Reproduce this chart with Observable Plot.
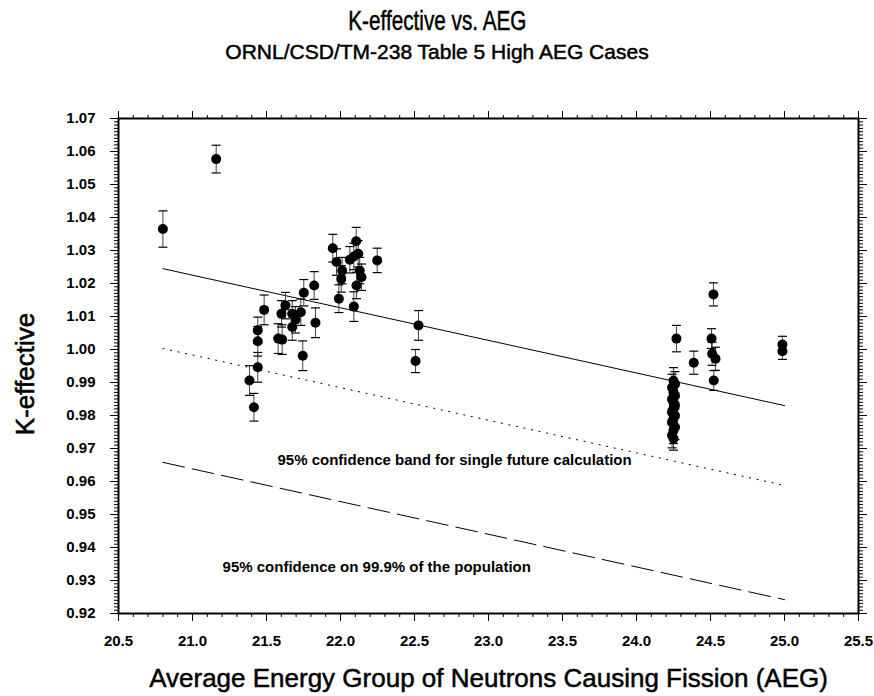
<!DOCTYPE html>
<html>
<head>
<meta charset="utf-8">
<script src="https://cdn.jsdelivr.net/npm/d3@7"></script>
<script src="https://cdn.jsdelivr.net/npm/@observablehq/plot@0.6"></script>
<style>
  body { margin: 0; background: #fff; font-family: "Liberation Sans", Arial, sans-serif; }
  #wrap { position: relative; width: 874px; height: 696px; overflow: hidden; }
  .head { position: absolute; left: 0; width: 874px; text-align: center; white-space: nowrap; -webkit-text-stroke: 0.5px #000; }
  .head span { display: inline-block; transform-origin: 50% 50%; }
  #title { top: 5px; font-size: 28px; line-height: 32px; }
  #title span { transform: scaleX(0.74); }
  #sub { top: 40px; font-size: 21px; line-height: 24px; }
  #chart { position: absolute; top: 80px; left: 0; }
</style>
</head>
<body>
<div id="wrap">
  <div id="title" class="head"><span>K-effective vs. AEG</span></div>
  <div id="sub" class="head"><span>ORNL/CSD/TM-238 Table 5 High AEG Cases</span></div>
  <div id="chart"></div>
</div>
<script>
// Benchmark cases: average energy group causing fission, calculated k-eff, 1-sigma uncertainty
const aeg = [
  20.80, 21.16, 21.385, 21.415, 21.441, 21.441, 21.441, 21.484, 21.579, 21.606,
  21.601, 21.628, 21.674, 21.696, 21.674, 21.732, 21.745, 21.752, 21.822, 21.831,
  21.948, 21.973, 21.989, 22.005, 22.011, 22.063, 22.09, 22.09, 22.106, 22.12,
  22.108, 22.13, 22.142, 22.248, 22.527, 22.507,
  24.27, 24.387, 24.507, 24.511, 24.534, 24.522, 24.52, 24.986, 24.986,
  24.25, 24.26, 24.24, 24.25, 24.26, 24.24, 24.25, 24.26, 24.25, 24.24,
  24.26, 24.25, 24.24, 24.26, 24.25, 24.24, 24.25
];
const keff = [
  1.0365, 1.0577, 0.9906, 0.9825, 0.9946, 1.0025, 1.0058, 1.0120, 1.0033, 1.0030,
  1.0108, 1.0133, 1.0108, 1.0090, 1.0068, 1.0113, 0.9981, 1.0172, 1.0194, 1.0081,
  1.0307, 1.0265, 1.0154, 1.0214, 1.0239, 1.0272, 1.0282, 1.0130, 1.0328, 1.0290,
  1.0194, 1.0239, 1.0219, 1.0270, 1.0073, 0.9965,
  1.0033, 0.9960, 1.0033, 0.9987, 0.9972, 0.9906, 1.0167, 1.0015, 0.9995,
  0.9905, 0.9895, 0.9885, 0.9870, 0.9860, 0.9850, 0.9840, 0.9830, 0.9820, 0.9810,
  0.9800, 0.9790, 0.9780, 0.9765, 0.9755, 0.9740, 0.9730
];
const sigma = [
  0.0055, 0.0042, 0.0045, 0.0042, 0.0045, 0.0045, 0.0040, 0.0045, 0.0045, 0.0045,
  0.0040, 0.0040, 0.0040, 0.0040, 0.0040, 0.0040, 0.0045, 0.0040, 0.0042, 0.0045,
  0.0042, 0.0040, 0.0042, 0.0040, 0.0040, 0.0040, 0.0040, 0.0045, 0.0042, 0.0040,
  0.0040, 0.0040, 0.0040, 0.0037, 0.0045, 0.0035,
  0.0040, 0.0035, 0.0030, 0.0035, 0.0035, 0.0030, 0.0035, 0.0025, 0.0025,
  0.0040, 0.0038, 0.0040, 0.0038, 0.0040, 0.0038, 0.0040, 0.0038, 0.0040, 0.0038,
  0.0040, 0.0038, 0.0040, 0.0038, 0.0040, 0.0038, 0.0035
];

// Regression line and lower tolerance limits, evaluated at the ends of the AEG range
const fitAeg = [20.8, 25.0];
const fitK = [1.0245, 0.9830];
const bandK = [1.0003, 0.9588];
const limitK = [0.9658, 0.9242];

// Tick values and labels
const xMajor = [20.5, 21.0, 21.5, 22.0, 22.5, 23.0, 23.5, 24.0, 24.5, 25.0, 25.5];
const yMajor = [0.92, 0.93, 0.94, 0.95, 0.96, 0.97, 0.98, 0.99, 1.00, 1.01, 1.02, 1.03, 1.04, 1.05, 1.06, 1.07];
const xMinor = d3.range(205, 256, 1).map(v => v / 10);
const yMinor = d3.range(920, 1071, 1).map(v => v / 1000);

const bandLabel = "95% confidence band for single future calculation";
const limitLabel = "95% confidence on 99.9% of the population";
const xTitle = "Average Energy Group of Neutrons Causing Fission (AEG)";
const yTitle = "K-effective";

const cases = aeg.map((x, i) => ({aeg: x, k: keff[i], s: sigma[i]}));
const rows = (ks) => fitAeg.map((x, i) => ({aeg: x, k: ks[i]}));

// Flat horizontal symbol for error bar caps
const cap = {
  draw(ctx, size) {
    const w = Math.sqrt(size / Math.PI);
    ctx.moveTo(-w, 0);
    ctx.lineTo(w, 0);
  }
};

const blank = () => "";
const fontFamily = "'Liberation Sans', Arial, sans-serif";

const chart = Plot.plot({
  width: 874,
  height: 616,
  marginTop: 38,
  marginBottom: 83,
  marginLeft: 118,
  marginRight: 16,
  x: {domain: [20.5, 25.5]},
  y: {domain: [0.92, 1.07]},
  style: {fontFamily, fontSize: "15px", fontWeight: "bold", color: "#000", background: "#fff"},
  marks: [
    // minor ticks on all four sides
    Plot.axisX(xMinor, {anchor: "bottom", tickSize: 4, tickFormat: blank, label: null}),
    Plot.axisX(xMinor, {anchor: "top", tickSize: 4, tickFormat: blank, label: null}),
    Plot.axisY(yMinor, {anchor: "left", tickSize: 4, tickFormat: blank, label: null}),
    Plot.axisY(yMinor, {anchor: "right", tickSize: 4, tickFormat: blank, label: null}),
    // major ticks, labelled on bottom and left
    Plot.axisX(xMajor, {anchor: "bottom", tickSize: 8, tickPadding: 14, tickFormat: d3.format(".1f"), label: null}),
    Plot.axisX(xMajor, {anchor: "top", tickSize: 8, tickFormat: blank, label: null}),
    Plot.axisY(yMajor, {anchor: "left", tickSize: 8, tickPadding: 15, tickFormat: d3.format(".2f"), label: null}),
    Plot.axisY(yMajor, {anchor: "right", tickSize: 8, tickFormat: blank, label: null}),
    Plot.frame({stroke: "#000", strokeWidth: 2}),

    // fitted trend and tolerance limits
    Plot.line(rows(fitK), {x: "aeg", y: "k", stroke: "#000", strokeWidth: 1}),
    Plot.line(rows(bandK), {x: "aeg", y: "k", stroke: "#000", strokeWidth: 1, strokeDasharray: "1.2,6.5"}),
    Plot.line(rows(limitK), {x: "aeg", y: "k", stroke: "#000", strokeWidth: 1, strokeDasharray: "22,8"}),

    // error bars
    Plot.ruleX(cases, {x: "aeg", y1: d => d.k - d.s, y2: d => d.k + d.s, stroke: "#444", strokeWidth: 1}),
    Plot.dot(cases, {x: "aeg", y: d => d.k + d.s, symbol: cap, r: 4.5, stroke: "#000", fill: "none", strokeWidth: 1.2}),
    Plot.dot(cases, {x: "aeg", y: d => d.k - d.s, symbol: cap, r: 4.5, stroke: "#000", fill: "none", strokeWidth: 1.2}),
    // calculated k-eff
    Plot.dot(cases, {x: "aeg", y: "k", r: 5, fill: "#000", stroke: "none"}),

    // annotations
    Plot.text([bandLabel], {x: 21.574, y: 0.9664, text: d => d, textAnchor: "start", fontSize: 15, fontWeight: "bold", fill: "#000"}),
    Plot.text([limitLabel], {x: 21.203, y: 0.9340, text: d => d, textAnchor: "start", fontSize: 15, fontWeight: "bold", fill: "#000"}),

    // axis titles
    Plot.text([xTitle], {frameAnchor: "bottom", dy: 73, text: d => d, fontSize: 26, fontWeight: "normal", fill: "#000", stroke: "#000", strokeWidth: 0.5}),
    Plot.text([yTitle], {frameAnchor: "left", textAnchor: "middle", dx: -93, dy: 8, rotate: -90, text: d => d, fontSize: 26, fontWeight: "normal", fill: "#000", stroke: "#000", strokeWidth: 0.6})
  ]
});

document.getElementById("chart").appendChild(chart);
</script>
</body>
</html>
